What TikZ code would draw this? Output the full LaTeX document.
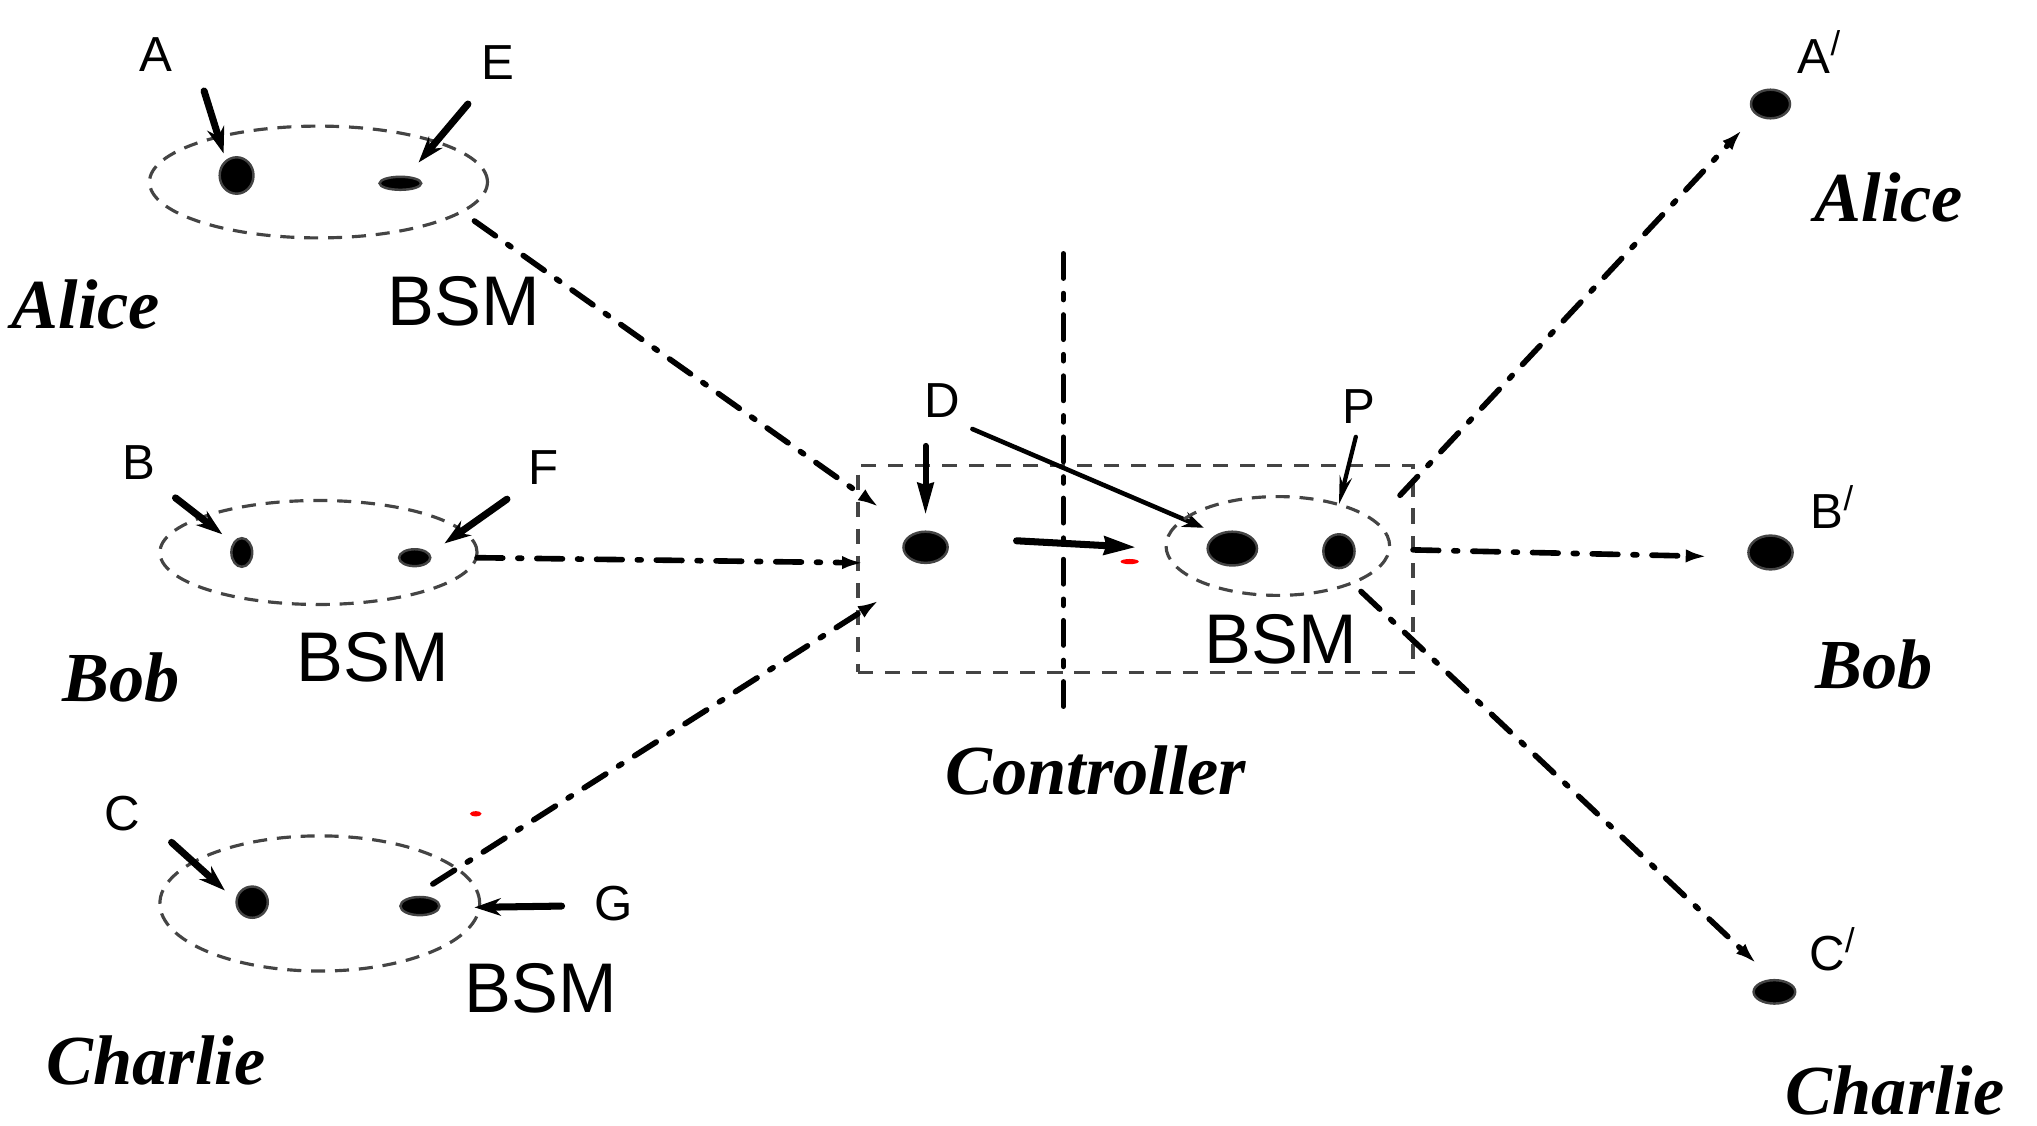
\documentclass[tikz,border=0pt]{standalone}
\usepackage{fontspec}
\setmainfont{Liberation Serif}
\setsansfont{Liberation Sans}
\usetikzlibrary{shapes.geometric,arrows.meta}
\def\U{0.0130cm}
\definecolor{dgray}{HTML}{444444}
\begin{document}
\begin{tikzpicture}[x=0.0130cm,y=-0.0130cm,
  dotn/.style={ellipse, fill=black, draw=dgray, line width=0.7pt, inner sep=0pt},
  grp/.style={ellipse, draw=dgray, line width=0.9pt, dash pattern=on 4pt off 2.8pt, inner sep=0pt},
  lab/.style={font=\sffamily\fontsize{14}{16}\selectfont, inner sep=0pt},
  bsm/.style={font=\sffamily\fontsize{20}{24}\selectfont, inner sep=0pt},
  pname/.style={font=\bfseries\itshape\fontsize{20}{24}\selectfont, inner sep=0pt},
  conn/.style={line width=1.6pt, line cap=round, dash pattern=on 7.3pt off 4.3pt on 1.1pt off 4.3pt, -{Latex[length=6pt,width=3.8pt]}},
  boldarr/.style={line width=2pt, line cap=round, -{Stealth[length=7.5pt,width=5pt]}},
  thinarr/.style={line width=1.2pt, line cap=round, -{Stealth[length=8pt,width=3.5pt]}},
  reddash/.style={ellipse, fill=red, inner sep=0pt}
]
\useasboundingbox (0,0) rectangle (1567,866);

% ---------- Alice group ----------
\node[grp, minimum width=260*\U, minimum height=86*\U] (gA) at (245,140) {};
\node[dotn, minimum width=26*\U, minimum height=28*\U] (dA) at (182,135) {};
\node[dotn, minimum width=32*\U, minimum height=10*\U] (dE) at (308,141) {};
\node[lab] (lA) at (120,42) {A};
\node[lab] (lE) at (383,48) {E};
\node[pname] (nAl) at (66,234) {Alice};
\node[bsm] (bA) at (357,232) {BSM};
\coordinate (aA1) at (157,70); \coordinate (aA2) at (172,118);
\coordinate (aE1) at (360,80); \coordinate (aE2) at (322,125);
\draw[boldarr] (aA1) -- (aA2);
\draw[boldarr] (aE1) -- (aE2);

% ---------- Bob group ----------
\node[grp, minimum width=244*\U, minimum height=80*\U] (gB) at (245,425) {};
\node[dotn, minimum width=16*\U, minimum height=22*\U] (dB) at (186,425) {};
\node[dotn, minimum width=24*\U, minimum height=13*\U] (dF) at (319,429) {};
\node[lab] (lB) at (107,356) {B};
\node[lab] (lF) at (418,360) {F};
\node[pname] (nBo) at (93,521) {Bob};
\node[bsm] (bB) at (287,506) {BSM};
\coordinate (aB1) at (135,383); \coordinate (aB2) at (171,411);
\coordinate (aF1) at (390,384); \coordinate (aF2) at (342,418);
\draw[boldarr] (aB1) -- (aB2);
\draw[boldarr] (aF1) -- (aF2);

% ---------- Charlie group ----------
\node[grp, minimum width=246*\U, minimum height=104*\U] (gC) at (246,695) {};
\node[dotn, minimum width=24*\U, minimum height=24*\U] (dC) at (194,694) {};
\node[dotn, minimum width=30*\U, minimum height=14*\U] (dG) at (323,697) {};
\node[lab] (lC) at (94,626) {C};
\node[lab] (lG) at (472,695) {G};
\node[pname] (nCh) at (120,816) {Charlie};
\node[bsm] (bC) at (416,760) {BSM};
\node[reddash, minimum width=9*\U, minimum height=4*\U] (r1) at (366,626) {};
\coordinate (aC1) at (132,648); \coordinate (aC2) at (173,685);
\coordinate (aG1) at (432,697); \coordinate (aG2) at (365,698);
\draw[boldarr] (aC1) -- (aC2);
\draw[boldarr] (aG1) -- (aG2);

% ---------- Controller ----------
\node[draw=dgray, line width=0.9pt, dash pattern=on 4.3pt off 3.4pt, minimum width=427*\U, minimum height=159*\U, inner sep=0pt] (box) at (873.5,437.5) {};
\coordinate (vt) at (818,195); \coordinate (vb) at (818,553);
\draw[line width=1.4pt, line cap=round, dash pattern=on 7.1pt off 4.2pt on 1.9pt off 4.2pt] (vt) -- (vb);
\node[dotn, minimum width=34*\U, minimum height=24*\U] (dD) at (712,421) {};
\node[lab] (lD) at (725,308) {D};
\coordinate (aD1) at (712,343); \coordinate (aD2) at (712,396);
\draw[line width=1.7pt, line cap=round, -{Stealth[length=9pt,width=4.5pt,inset=0.5pt]}] (aD1) -- (aD2);
\coordinate (dl1) at (748,330); \coordinate (dl2) at (926,406);
\draw[line width=1.3pt, line cap=round, -{Stealth[length=6pt,width=4.5pt]}] (dl1) -- (dl2);
\coordinate (h1) at (782,416); \coordinate (h2) at (874,421);
\draw[line width=2pt, line cap=round, -{Stealth[length=9pt,width=5pt,inset=0.5pt]}] (h1) -- (h2);
\node[reddash, minimum width=14*\U, minimum height=4*\U] (r2) at (869,432) {};
\node[grp, minimum width=172*\U, minimum height=76*\U] (gP) at (983,420) {};
\node[dotn, minimum width=38*\U, minimum height=26*\U] (dX) at (948,422) {};
\node[dotn, minimum width=24*\U, minimum height=26*\U] (dP) at (1030,424) {};
\node[lab] (lP) at (1045,313) {P};
\coordinate (aP1) at (1043,336); \coordinate (aP2) at (1030,388);
\draw[thinarr] (aP1) -- (aP2);
\node[bsm] (bP) at (985,492) {BSM};
\node[pname] (nCo) at (843,593) {Controller};

% ---------- right side ----------
\node[dotn, minimum width=30*\U, minimum height=22*\U] (dA2) at (1362,80) {};
\node[dotn, minimum width=34*\U, minimum height=26*\U] (dB2) at (1362,425) {};
\node[dotn, minimum width=32*\U, minimum height=18*\U] (dC2) at (1365,763) {};
\node[lab] (lA2) at (1400,40) {A\textsuperscript{/}};
\node[lab] (lB2) at (1410,390) {B\textsuperscript{/}};
\node[lab] (lC2) at (1410,730) {C\textsuperscript{/}};
\node[pname] (nAl2) at (1453,152) {Alice};
\node[pname] (nBo2) at (1442,511) {Bob};
\node[pname] (nCh2) at (1458,839) {Charlie};

% ---------- connectors ----------
\coordinate (c1s) at (365,170); \coordinate (c1e) at (676,390);
\coordinate (c2s) at (367,429); \coordinate (c2e) at (664,433);
\coordinate (c3s) at (333,680); \coordinate (c3e) at (676,462);
\coordinate (c4s) at (1077,381); \coordinate (c4e) at (1340,100);
\coordinate (c5s) at (1087,423); \coordinate (c5e) at (1313,428);
\coordinate (c6s) at (1047,455); \coordinate (c6e) at (1351,741);
\draw[conn] (c1s) -- (c1e);
\draw[conn] (c2s) -- (c2e);
\draw[conn] (c3s) -- (c3e);
\draw[conn] (c4s) -- (c4e);
\draw[conn] (c5s) -- (c5e);
\draw[conn] (c6s) -- (c6e);
\end{tikzpicture}
\end{document}
